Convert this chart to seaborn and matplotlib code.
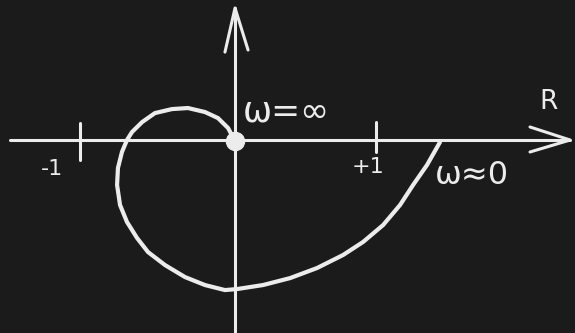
import matplotlib
matplotlib.use("Agg")
import matplotlib.pyplot as plt
import seaborn as sns
import pandas as pd

curve_re = [1.385, 1.297, 1.203, 1.115, 1.0, 0.865, 0.730, 0.554, 0.372,
            0.189, 0.014, -0.068, -0.203, -0.338, -0.473, -0.588, -0.662,
            -0.730, -0.777, -0.797, -0.791, -0.764, -0.730, -0.696, -0.628,
            -0.541, -0.426, -0.318, -0.203, -0.115, -0.047, 0.0]
curve_im = [-0.007, -0.162, -0.297, -0.432, -0.568, -0.682, -0.770, -0.858, -0.926,
            -0.973, -1.0, -1.007, -0.973, -0.919, -0.838, -0.750, -0.655,
            -0.547, -0.432, -0.297, -0.182, -0.074, 0.007, 0.061, 0.128,
            0.189, 0.216, 0.223, 0.196, 0.155, 0.088, 0.0]
tick_pos = [-1.05, 0.95]
tick_labels = ["-1", "+1"]

BG = "#1b1b1b"
FG = "#ececec"

sns.set_style("dark", {"axes.facecolor": BG, "figure.facecolor": BG})
plt.rcParams["font.family"] = ["DejaVu Sans"]

fig = plt.figure(figsize=(5.75, 3.33), dpi=100)
ax = fig.add_axes([0, 0, 1, 1])
ax.set_xlim(-1.588, 2.297)
ax.set_ylim(-1.297, 0.953)

# axes with arrow heads
ax.plot([-1.52, 2.264], [0.007, 0.007], color=FG, lw=2.2, solid_capstyle="round")
ax.plot([1.993, 2.264, 1.993], [0.095, 0.007, -0.074], color=FG, lw=2.2,
        solid_capstyle="round", solid_joinstyle="round")
ax.plot([0.0, 0.0], [-1.32, 0.899], color=FG, lw=2.2, solid_capstyle="round")
ax.plot([-0.068, 0.0, 0.088], [0.601, 0.899, 0.615], color=FG, lw=2.2,
        solid_capstyle="round", solid_joinstyle="round")

# ticks at -1 and +1
tick_top = [0.122, 0.128]
tick_bot = [-0.128, -0.074]
for x, t, b in zip(tick_pos, tick_top, tick_bot):
    ax.plot([x, x], [b, t], color=FG, lw=2.2, solid_capstyle="round")
ax.text(-1.236, -0.19, tick_labels[0], color=FG, fontsize=16, ha="center", va="center")
ax.text(0.899, -0.175, tick_labels[1], color=FG, fontsize=16, ha="center", va="center")

# locus
df = pd.DataFrame({"re": curve_re, "im": curve_im})
sns.lineplot(data=df, x="re", y="im", sort=False, estimator=None, color=FG,
             lw=3.0, ax=ax, legend=False)
ax.lines[-1].set_solid_joinstyle("round")
ax.set_axis_off()

# point at the origin (w = inf)
ax.plot([0], [0], "o", color=FG, ms=13, zorder=5)

ax.text(0.05, 0.2, "ω=∞", color=FG, fontsize=25, ha="left", va="center")
ax.text(1.35, -0.23, "ω≈0", color=FG, fontsize=23, ha="left", va="center")
ax.text(2.115, 0.264, "R", color=FG, fontsize=19, ha="center", va="center")

fig.savefig("out.png", dpi=100, facecolor=BG)
